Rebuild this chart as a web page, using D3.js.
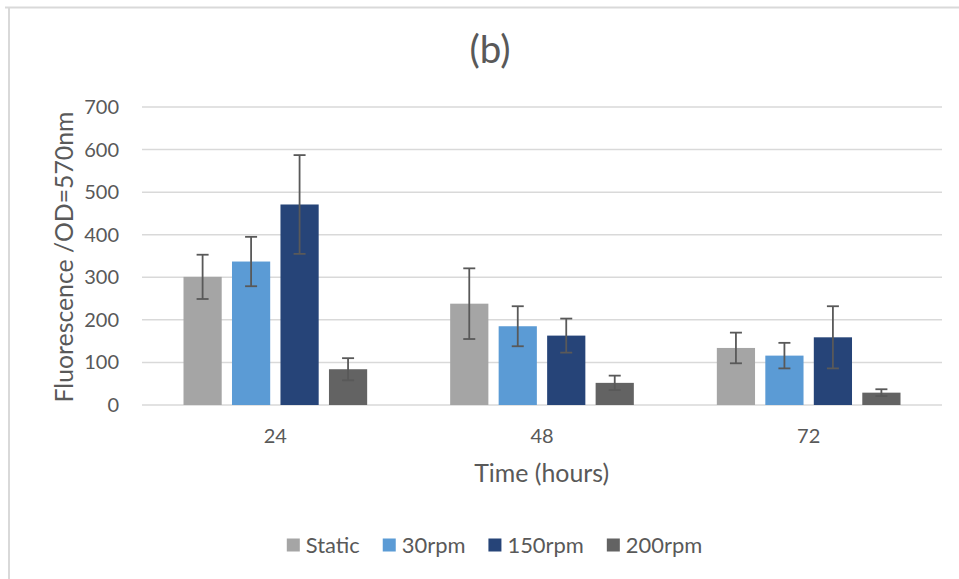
<!DOCTYPE html>
<html>
<head>
<meta charset="utf-8">
<script src="https://d3js.org/d3.v7.min.js"></script>
<style>
	body { margin: 0; background: #fff; }
	svg text { font-family: Lato, "Open Sans", sans-serif; fill: #595959; }
</style>
</head>
<body>
<svg id="chart" width="959" height="579"></svg>
<script>
var categories = ["24", "48", "72"];
var series_names = ["Static", "30rpm", "150rpm", "200rpm"];
var series_colors = ["#A5A5A5", "#5B9BD5", "#264478", "#636363"];

// mean values per time point
var static_vals = [301, 238, 134];
var rpm30_vals = [337, 185, 116];
var rpm150_vals = [471, 163, 159];
var rpm200_vals = [84, 52, 29];

// error bar half widths
var static_err = [52, 83, 36];
var rpm30_err = [58, 47, 30];
var rpm150_err = [116, 40, 73];
var rpm200_err = [26, 17, 8];

var y_ticks = [0, 100, 200, 300, 400, 500, 600, 700];

var all_vals = [static_vals, rpm30_vals, rpm150_vals, rpm200_vals];
var all_errs = [static_err, rpm30_err, rpm150_err, rpm200_err];

// shrink/grow a text so it takes the given width
function fit_text(sel, target_w){
	var w = sel.node().getComputedTextLength();
	var fs = parseFloat(sel.style("font-size"));
	sel.style("font-size", (fs * target_w / w) + "px");
	return sel;
}

function draw_chart(){
	var svg = d3.select("#chart");

	// frame (only top and left edges show)
	svg.append("line").attr("x1", 5).attr("x2", 959).attr("y1", 7.5).attr("y2", 7.5)
		.attr("stroke", "#D9D9D9").attr("stroke-width", 2);
	svg.append("line").attr("x1", 9).attr("x2", 9).attr("y1", 7).attr("y2", 579)
		.attr("stroke", "#D9D9D9").attr("stroke-width", 2);

	var x0 = d3.scaleBand().domain(categories).range([142, 942]).padding(0);
	var x1 = d3.scaleBand().domain(series_names)
		.range([41.5, x0.bandwidth() - 41.5])
		.paddingInner(0.212).paddingOuter(0);
	var y = d3.scaleLinear().domain([0, 700]).range([405, 107]);

	// gridlines
	svg.append("g")
		.selectAll("line")
		.data(y_ticks)
		.enter().append("line")
		.attr("x1", 142).attr("x2", 942)
		.attr("y1", function(d){ return y(d); })
		.attr("y2", function(d){ return y(d); })
		.attr("stroke", "#D9D9D9")
		.attr("stroke-width", 1.5);

	// y tick labels
	svg.append("g")
		.selectAll("text")
		.data(y_ticks)
		.enter().append("text")
		.attr("x", 119)
		.attr("y", function(d){ return y(d); })
		.attr("dy", "0.35em")
		.attr("text-anchor", "end")
		.style("font-size", "20px")
		.text(function(d){ return d; });

	// rows of (category, series)
	var rows = [];
	categories.forEach(function(c, i){
		series_names.forEach(function(s, j){
			rows.push({cat: c, name: s, color: series_colors[j], v: all_vals[j][i], e: all_errs[j][i]});
		});
	});

	svg.append("g")
		.selectAll("rect")
		.data(rows)
		.enter().append("rect")
		.attr("x", function(d){ return x0(d.cat) + x1(d.name); })
		.attr("width", x1.bandwidth())
		.attr("y", function(d){ return y(d.v); })
		.attr("height", function(d){ return y(0) - y(d.v); })
		.attr("fill", function(d){ return d.color; });

	// error bars
	var eb = svg.append("g").selectAll("g")
		.data(rows)
		.enter().append("g")
		.attr("stroke", "#595959")
		.attr("stroke-width", 1.8);
	eb.append("line")
		.attr("x1", function(d){ return x0(d.cat) + x1(d.name) + x1.bandwidth() / 2; })
		.attr("x2", function(d){ return x0(d.cat) + x1(d.name) + x1.bandwidth() / 2; })
		.attr("y1", function(d){ return y(d.v + d.e); })
		.attr("y2", function(d){ return y(d.v - d.e); });
	[1, -1].forEach(function(sgn){
		eb.append("line")
			.attr("x1", function(d){ return x0(d.cat) + x1(d.name) + x1.bandwidth() / 2 - 6; })
			.attr("x2", function(d){ return x0(d.cat) + x1(d.name) + x1.bandwidth() / 2 + 6; })
			.attr("y1", function(d){ return y(d.v + sgn * d.e); })
			.attr("y2", function(d){ return y(d.v + sgn * d.e); });
	});

	// x labels
	svg.append("g")
		.selectAll("text")
		.data(categories)
		.enter().append("text")
		.attr("x", function(d){ return x0(d) + x0.bandwidth() / 2; })
		.attr("y", 443)
		.attr("text-anchor", "middle")
		.style("font-size", "20px")
		.text(function(d){ return d; });

	// title and axis titles
	var title = svg.append("text")
		.attr("x", 490).attr("y", 63)
		.attr("text-anchor", "middle")
		.style("font-size", "32px")
		.text("(b)");
	fit_text(title, 41);

	var xt = svg.append("text")
		.attr("x", 541.7).attr("y", 482)
		.attr("text-anchor", "middle")
		.style("font-size", "24px")
		.text("Time (hours)");
	fit_text(xt, 135);

	var yt = svg.append("text")
		.attr("transform", "translate(73,257) rotate(-90)")
		.attr("text-anchor", "middle")
		.style("font-size", "24px")
		.text("Fluorescence /OD=570nm");
	fit_text(yt, 291);

	draw_legend(svg);
}

function draw_legend(svg){
	var lg = svg.append("g");
	var items = lg.selectAll("g")
		.data(series_names)
		.enter().append("g");
	items.append("rect")
		.attr("width", 13).attr("height", 13)
		.attr("y", 538.5)
		.attr("fill", function(d, i){ return series_colors[i]; });
	var labels = items.append("text")
		.attr("x", 19)
		.attr("y", 553)
		.style("font-size", "22px")
		.text(function(d){ return d; });
	fit_text(d3.select(labels.nodes()[0]), 54);
	var fs = d3.select(labels.nodes()[0]).style("font-size");
	labels.style("font-size", fs);

	// place items one after another
	var xpos = 0, offsets = [];
	labels.each(function(){
		offsets.push(xpos);
		xpos += 19 + this.getComputedTextLength() + 23;
	});
	var total = xpos - 23;
	var start = 494.5 - total / 2;
	items.attr("transform", function(d, i){ return "translate(" + (start + offsets[i]) + ",0)"; });
}

draw_chart();
</script>
</body>
</html>
